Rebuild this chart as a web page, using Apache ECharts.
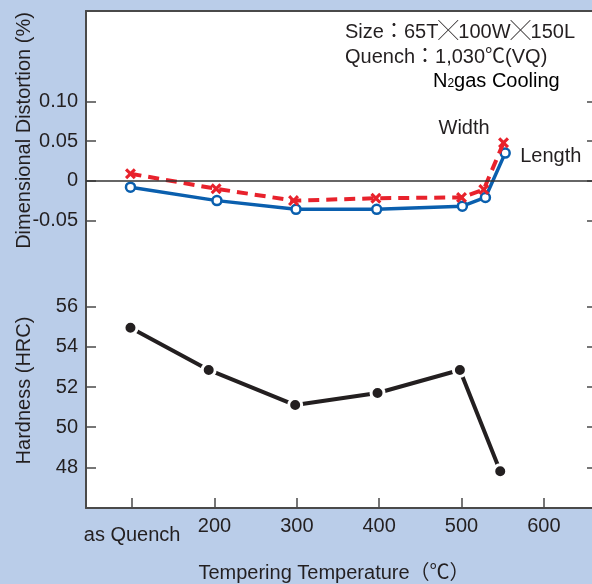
<!DOCTYPE html>
<html>
<head>
<meta charset="utf-8">
<script src="https://cdn.jsdelivr.net/npm/echarts@6/dist/echarts.min.js"></script>
<style>
  html, body { margin: 0; padding: 0; background: #bacde9; }
  #chart { width: 592px; height: 584px; }
</style>
</head>
<body>
<div id="chart"></div>
<script>
// tempering temperature (as quench drawn at ~100)
const tempTicks = [100, 200, 300, 400, 500, 600];
const tempTickLabels = ['as Quench', '200', '300', '400', '500', '600'];

const distTicks = [-0.05, 0, 0.05, 0.1];
const distTickLabels = ['-0.05', '0', '0.05', '0.10'];
const hrcTicks = [48, 50, 52, 54, 56];

// dimensional distortion (%)
const lengthTemps = [98, 203, 299, 397, 501, 529, 553];
const lengthValues = [-0.008, -0.025, -0.036, -0.036, -0.032, -0.021, 0.035];
const widthTemps = [98, 202, 296, 396, 500, 527, 551];
const widthValues = [0.009, -0.010, -0.025, -0.022, -0.021, -0.011, 0.048];

// hardness (HRC)
const hardTemps = [98, 193, 298, 398, 498, 547];
const hardValues = [54.95, 52.85, 51.1, 51.7, 52.85, 47.8];

const FONT = 'Liberation Sans, Arial, Noto Sans CJK JP, sans-serif';
const TXT = '#231f20';
const AXIS = '#4a4a4a';

function pairs(xs, ys) {
  return xs.map((x, i) => [x, ys[i]]);
}

const chart = echarts.init(document.getElementById('chart'), null, { renderer: 'canvas' });

const crossPath = 'path://M2,0L5,3L8,0L10,2L7,5L10,8L8,10L5,7L2,10L0,8L3,5L0,2Z';

const sideY = (grid, min, max, ticks, pos, labels, name, pad) => ({
  type: 'value',
  gridIndex: grid,
  position: pos,
  min: min,
  max: max,
  name: name || '',
  nameLocation: 'middle',
  nameGap: 52,
  nameMoveOverlap: false,
  nameTextStyle: { fontFamily: FONT, fontSize: 20, color: TXT, padding: pad || 0 },
  axisLine: { show: pos === 'left', onZero: false, lineStyle: { color: AXIS, width: 2 } },
  axisTick: { show: true, inside: true, length: 10, customValues: ticks, lineStyle: { color: AXIS, width: 1.5 } },
  axisLabel: {
    show: !!labels,
    customValues: ticks,
    margin: 8,
    fontFamily: FONT,
    fontSize: 20,
    color: TXT,
    formatter: v => {
      if (!labels) return '';
      const i = ticks.findIndex(t => Math.abs(t - v) < 1e-6);
      return i >= 0 ? labels[i] : '';
    }
  },
  splitLine: { show: false }
});

const option = {
  backgroundColor: '#bacde9',
  animation: false,
  grid: [
    { left: 86, top: 11, width: 511, height: 249, show: true, backgroundColor: '#fff', borderWidth: 0, outerBoundsMode: 'none' },
    { left: 86, top: 260, width: 511, height: 248, show: true, backgroundColor: '#fff', borderWidth: 0, outerBoundsMode: 'none' }
  ],
  xAxis: [
    {
      type: 'value', gridIndex: 0, position: 'top', min: 44, max: 664.5,
      axisLine: { show: true, onZero: false, lineStyle: { color: AXIS, width: 2 } },
      axisTick: { show: false }, axisLabel: { show: false }, splitLine: { show: false }
    },
    {
      type: 'value', gridIndex: 1, position: 'bottom', min: 44, max: 664.5,
      name: 'Tempering Temperature（℃）',
      nameLocation: 'middle',
      nameGap: 55,
      nameMoveOverlap: false,
      nameTextStyle: { fontFamily: FONT, fontSize: 20, color: TXT, padding: [0, 15, 0, 0] },
      axisLine: { show: true, onZero: false, lineStyle: { color: AXIS, width: 2 } },
      axisTick: { show: true, inside: true, length: 10, customValues: tempTicks, lineStyle: { color: AXIS, width: 1.5 } },
      axisLabel: {
        customValues: tempTicks,
        margin: 8,
        fontFamily: FONT,
        fontSize: 20,
        color: TXT,
        formatter: v => {
          const i = tempTicks.indexOf(v);
          if (i === 0) return '{q|' + tempTickLabels[i] + '}';
          return i >= 0 ? tempTickLabels[i] : '';
        },
        rich: { q: { fontFamily: FONT, fontSize: 20, color: TXT, padding: [9, 0, 0, 0] } }
      },
      splitLine: { show: false }
    }
  ],
  yAxis: [
    sideY(0, -0.1, 0.2145, distTicks, 'left', distTickLabels, 'Dimensional Distortion (%)', [0, 0, 0, 10]),
    sideY(0, -0.1, 0.2145, distTicks, 'right', null),
    sideY(1, 45.97, 58.33, hrcTicks, 'left', hrcTicks.map(String), 'Hardness (HRC)', [0, 13, 0, 0]),
    sideY(1, 45.97, 58.33, hrcTicks, 'right', null)
  ],
  graphic: [
    {
      type: 'text', left: 345, top: 22,
      style: { text: 'Size：65T╳100W╳150L', font: '20px ' + FONT, fill: TXT }
    },
    {
      type: 'text', left: 345, top: 47,
      style: { text: 'Quench：1,030℃(VQ)', font: '20px ' + FONT, fill: TXT }
    },
    {
      type: 'text', left: 433, top: 71,
      style: {
        text: '{a|N}{s|2}{a|gas Cooling}',
        rich: {
          a: { fontFamily: FONT, fontSize: 20, color: TXT, lineHeight: 22, verticalAlign: 'bottom' },
          s: { fontFamily: FONT, fontSize: 12, color: TXT, lineHeight: 22, verticalAlign: 'bottom', padding: [0, 0, 1, 0] }
        }
      }
    }
  ],
  series: [
    {
      name: 'Length',
      type: 'line',
      xAxisIndex: 0, yAxisIndex: 0,
      data: pairs(lengthTemps, lengthValues),
      symbol: 'circle', symbolSize: 9,
      itemStyle: { color: '#fff', borderColor: '#0a5fae', borderWidth: 2.5 },
      lineStyle: { color: '#0a5fae', width: 3.5 },
      endLabel: { show: true, formatter: 'Length', fontFamily: FONT, fontSize: 20, color: TXT, offset: [7, 3] },
      markLine: {
        silent: true, symbol: 'none', label: { show: false },
        lineStyle: { color: '#333', width: 1.5, type: 'solid' },
        data: [{ yAxis: 0 }]
      },
      z: 3
    },
    {
      name: 'Width',
      type: 'line',
      xAxisIndex: 0, yAxisIndex: 0,
      data: pairs(widthTemps, widthValues),
      symbol: crossPath, symbolSize: 11,
      itemStyle: { color: '#e8222c' },
      lineStyle: { color: '#e8222c', width: 4, type: [11, 7] },
      endLabel: { show: true, formatter: 'Width', fontFamily: FONT, fontSize: 20, color: TXT, offset: [-73, -14] },
      z: 4
    },
    {
      name: 'Hardness',
      type: 'line',
      xAxisIndex: 1, yAxisIndex: 2,
      data: pairs(hardTemps, hardValues),
      symbol: 'circle', symbolSize: 13,
      itemStyle: { color: '#231f20', borderColor: '#fff', borderWidth: 3 },
      lineStyle: { color: '#231f20', width: 4 },
      z: 3
    }
  ]
};

chart.setOption(option);
</script>
</body>
</html>
